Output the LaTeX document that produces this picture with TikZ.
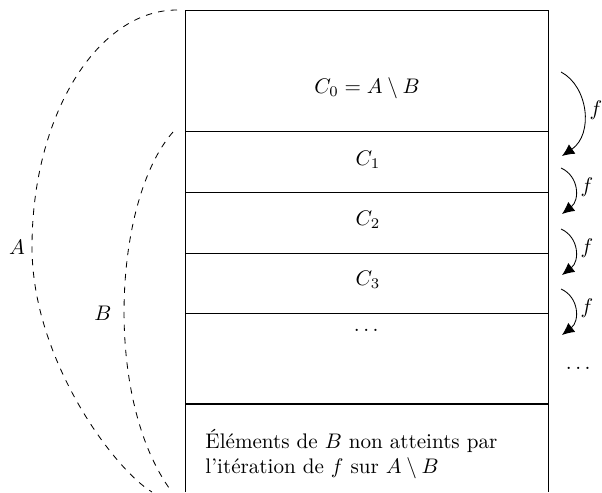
\documentclass[tikz,border=0pt]{standalone}
\usepackage{amsmath,amssymb}
\usetikzlibrary{arrows.meta}
\tikzset{iter/.style={-{Latex[length=5.8pt,width=5.4pt]}},
  setcurve/.style={dashed}}

\begin{document}
\begin{tikzpicture}[x=0.474pt,y=0.474pt]
\useasboundingbox (0,0) rectangle (602,492);
% the box and its rows
\draw (185,0)--(185,482)--(548,482)--(548,0);
\foreach \y in {361,300,239,179} \draw (185,\y)--(548,\y);
\draw[semithick] (185,88)--(548,88);
\node (c0) at (367,404) {$C_0=A\setminus B$};
\node (c1) at (368,332) {$C_1$};
\node (c2) at (368,272) {$C_2$};
\node (c3) at (368,212) {$C_3$};
\node (cdots) at (368,162) {$\dots$};
\node[anchor=west,align=left] (rest) at (198,38) {\'El\'ements de $B$ non atteints par\\l'it\'eration de $f$ sur $A\setminus B$};
% the iterations of f
\coordinate (s0) at (561,420); \coordinate (e0) at (562,336);
\draw[iter] (s0) .. controls (588,406) and (594,358) .. (e0);
\node (f0) at (596,382) {$f$};
\foreach \i/\y in {1/324,2/263,3/203} {
  \coordinate (s\i) at (561,\y); \coordinate (e\i) at (562,\y-46);
  \draw[iter] (s\i) .. controls (579,\y-8) and (580,\y-32) .. (e\i);
  \node (f\i) at (587,\y-19) {$f$};
}
\node (rdots) at (580,124) {$\dots$};
% the sets A and B
\draw[setcurve] (177,482) .. controls (97,482) and (32,376) .. (32,245) .. controls (32,132) and (115,22) .. (152,0);
\node (labA) at (17,245) {$A$};
\draw[setcurve] (173,360) .. controls (113,292) and (103,92) .. (172,0);
\node (labB) at (103,179) {$B$};
\end{tikzpicture}
\end{document}
